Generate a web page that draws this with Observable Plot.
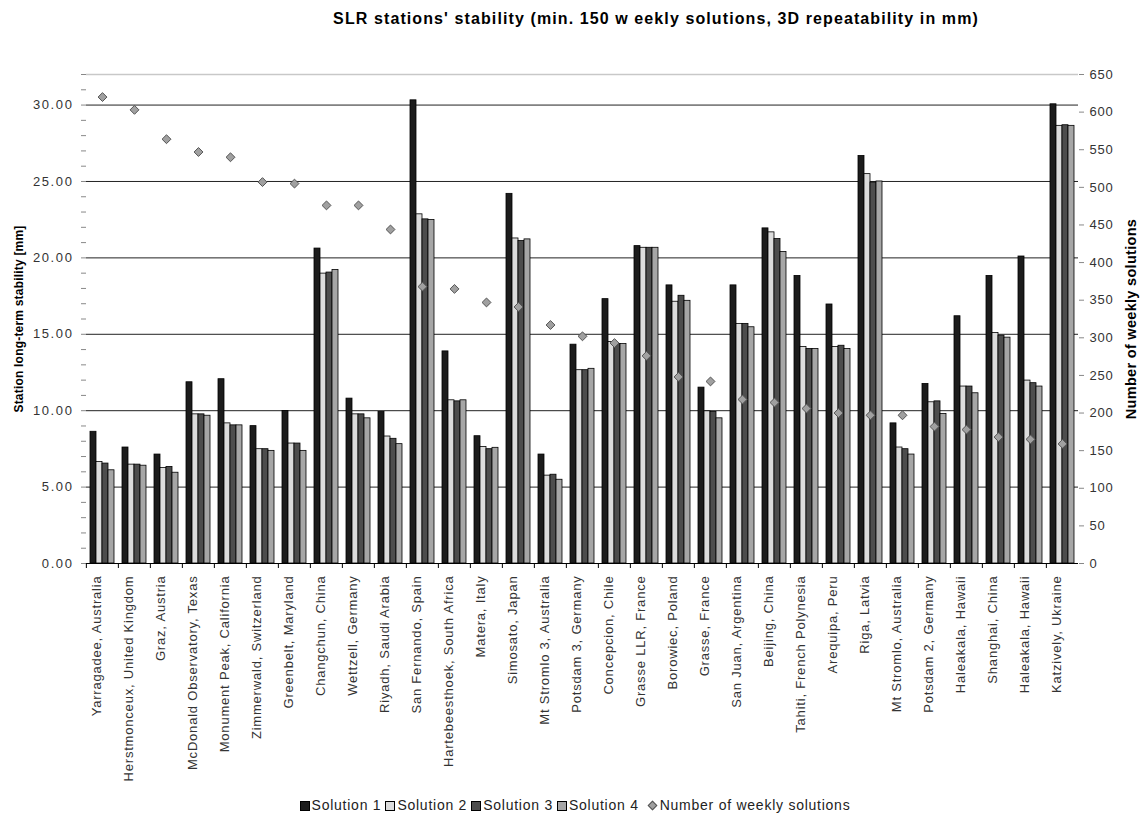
<!DOCTYPE html>
<html>
<head>
<meta charset="utf-8">
<script src="https://cdn.jsdelivr.net/npm/d3@7"></script>
<script src="https://cdn.jsdelivr.net/npm/@observablehq/plot@0.6"></script>
<style>
  body { margin: 0; background: #fff; font-family: "Liberation Sans", Arial, sans-serif; }
  #wrap { width: 1144px; }
  #title { height: 40px; line-height: 38px; text-align: center; font-weight: bold; font-size: 16px; padding-left: 168px; box-sizing: border-box; color: #000; letter-spacing: 1.1px; }
  #legend { height: 28px; text-align: center; font-size: 14px; color: #222; line-height: 30px; letter-spacing: 0.75px; padding-left: 6px; box-sizing: border-box; }
  #legend .item { margin: 0 2px; white-space: nowrap; }
  #legend .sw { display: inline-block; width: 8px; height: 8px; border: 1px solid #000; margin-right: 2px; vertical-align: -1px; }
  #legend .dm { display: inline-block; width: 5px; height: 5px; border: 1px solid #555; background: #a0a0a0; transform: rotate(45deg); margin: 0 4px 0 6px; vertical-align: 1px; }
</style>
</head>
<body>
<div id="wrap">
  <div id="title">SLR stations' stability (min. 150 w eekly solutions, 3D repeatability in mm)</div>
  <div id="chart"></div>
  <div id="legend"></div>
</div>
<script>
const stations = [
  "Yarragadee, Australia", "Herstmonceux, United Kingdom", "Graz, Austria",
  "McDonald Observatory, Texas", "Monument Peak, California", "Zimmerwald, Switzerland",
  "Greenbelt, Maryland", "Changchun, China", "Wettzell, Germany", "Riyadh, Saudi Arabia",
  "San Fernando, Spain", "Hartebeesthoek, South Africa", "Matera, Italy", "Simosato, Japan",
  "Mt Stromlo 3, Australia", "Potsdam 3, Germany", "Concepcion, Chile", "Grasse LLR, France",
  "Borowiec, Poland", "Grasse, France", "San Juan, Argentina", "Beijing, China",
  "Tahiti, French Polynesia", "Arequipa, Peru", "Riga, Latvia", "Mt Stromlo, Australia",
  "Potsdam 2, Germany", "Haleakala, Hawaii", "Shanghai, China", "Haleakala, Hawaii",
  "Katzively, Ukraine"
];
const sol1 = [8.62, 7.59, 7.13, 11.86, 12.06, 8.99, 9.98, 20.61, 10.79, 9.91, 30.31, 13.88, 8.33, 24.19, 7.13, 14.32, 17.30, 20.77, 18.20, 11.51, 18.20, 21.93, 18.82, 16.95, 26.67, 9.17, 11.75, 16.18, 18.82, 20.09, 30.05];
const sol2 = [6.64, 6.47, 6.25, 9.76, 9.17, 7.48, 7.85, 18.97, 9.76, 8.31, 22.85, 10.68, 7.63, 21.27, 5.75, 12.65, 14.50, 20.66, 17.13, 9.96, 15.68, 21.67, 14.17, 14.17, 25.48, 7.59, 10.55, 11.58, 15.09, 11.97, 28.64];
const sol3 = [6.54, 6.47, 6.32, 9.76, 9.04, 7.48, 7.85, 19.04, 9.76, 8.16, 22.52, 10.61, 7.48, 21.10, 5.81, 12.65, 14.36, 20.66, 17.52, 9.91, 15.68, 21.23, 14.04, 14.25, 24.93, 7.48, 10.61, 11.58, 14.91, 11.80, 28.68];
const sol4 = [6.10, 6.40, 5.94, 9.67, 9.04, 7.37, 7.37, 19.21, 9.50, 7.81, 22.48, 10.68, 7.57, 21.21, 5.48, 12.74, 14.36, 20.66, 17.19, 9.50, 15.46, 20.39, 14.04, 14.04, 25.00, 7.13, 9.78, 11.14, 14.78, 11.58, 28.64];
const weekly = [620, 603, 564, 547, 540, 507, 505, 476, 476, 444, 368, 365, 347, 341, 317, 302, 293, 276, 248, 242, 218, 214, 206, 200, 197, 197, 182, 178, 168, 165, 159];

const seriesNames = ["Solution 1", "Solution 2", "Solution 3", "Solution 4"];
const seriesColors = ["#1c1c1c", "#dcdcdc", "#4d4d4d", "#a6a6a6"];
const pointName = "Number of weekly solutions";
const leftTitle = "Station long-term stability [mm]";
const leftMax = 32, rightMax = 650;
const leftTicks = d3.range(0, 33, 1);
const leftGrid = [5, 10, 15, 20, 25, 30];
const rightTicks = d3.range(0, 651, 50);
const k = leftMax / rightMax;

const allSeries = [sol1, sol2, sol3, sol4];
const bars = stations.flatMap((s, i) => allSeries.map((arr, j) => ({i, series: seriesNames[j], value: arr[i]})));
const pts = stations.map((s, i) => ({i, n: weekly[i]}));

const chart = Plot.plot({
  width: 1144,
  height: 750,
  marginTop: 34,
  marginBottom: 227,
  marginLeft: 82,
  marginRight: 62,
  fx: {domain: d3.range(stations.length), padding: 0, axis: null, label: null},
  x: {domain: seriesNames, axis: null, paddingInner: 0, paddingOuter: 0.52},
  y: {domain: [0, leftMax], axis: null},
  color: {domain: seriesNames, range: seriesColors},
  style: {fontFamily: "'Liberation Sans', Arial, sans-serif", fontSize: "13px", color: "#333", background: "#fff", letterSpacing: "0.8px"},
  marks: [
    Plot.ruleY([leftMax], {stroke: "#c8c8c8", strokeWidth: 1.5}),
    Plot.ruleY(leftGrid, {stroke: "#222", strokeWidth: 1}),
    Plot.barY(bars, {fx: "i", x: "series", y: "value", fill: "series", stroke: "#000", strokeWidth: 0.8}),
    Plot.dot(pts, {fx: "i", y: d => d.n * k, symbol: "diamond2", r: 4, fill: "#a0a0a0", stroke: "#555", strokeWidth: 1}),
    Plot.ruleY([0], {stroke: "#000"}),
    Plot.axisY(leftTicks, {
      anchor: "left", tickSize: 5, tickPadding: 8, line: true, stroke: "#888",
      tickFormat: d => d % 5 === 0 ? d.toFixed(2) : "",
      label: leftTitle, labelAnchor: "center", labelArrow: false, labelOffset: 72
    }),
    Plot.axisY(rightTicks.map(v => v * k), {
      anchor: "right", tickSize: 5, tickPadding: 6, line: true, stroke: "#888",
      tickFormat: d => String(Math.round(d / k)),
      label: pointName, labelAnchor: "center", labelArrow: false, labelOffset: 57
    }),
    Plot.axisFx({anchor: "bottom", tickSize: 0, tickRotate: -90, tickPadding: 12, dx: -6, tickFormat: i => stations[i], label: null}),
    Plot.axisFx({anchor: "bottom", tickSize: 5, tickFormat: () => "", dx: -16.13, label: null, stroke: "#000"})
  ]
});
document.getElementById("chart").appendChild(chart);

// axis title and tick-label styling
chart.querySelectorAll("text").forEach(t => {
  const s = t.textContent;
  if (s === leftTitle) {
    t.setAttribute("font-weight", "bold");
    t.setAttribute("fill", "#000");
    t.setAttribute("font-size", "12px");
    t.setAttribute("letter-spacing", "0.2px");
  } else if (s === pointName) {
    t.setAttribute("font-weight", "bold");
    t.setAttribute("fill", "#000");
    t.setAttribute("font-size", "14.5px");
    t.setAttribute("letter-spacing", "0.3px");
  } else if (/^\d+\.00$/.test(s)) {
    t.setAttribute("letter-spacing", "1.6px");
  }
});

const legend = document.getElementById("legend");
seriesNames.forEach((name, j) => {
  const span = document.createElement("span");
  span.className = "item";
  span.innerHTML = `<span class="sw" style="background:${seriesColors[j]}"></span>${name}`;
  legend.appendChild(span);
});
const ps = document.createElement("span");
ps.className = "item";
ps.innerHTML = `<span class="dm"></span>${pointName}`;
legend.appendChild(ps);
</script>
</body>
</html>
